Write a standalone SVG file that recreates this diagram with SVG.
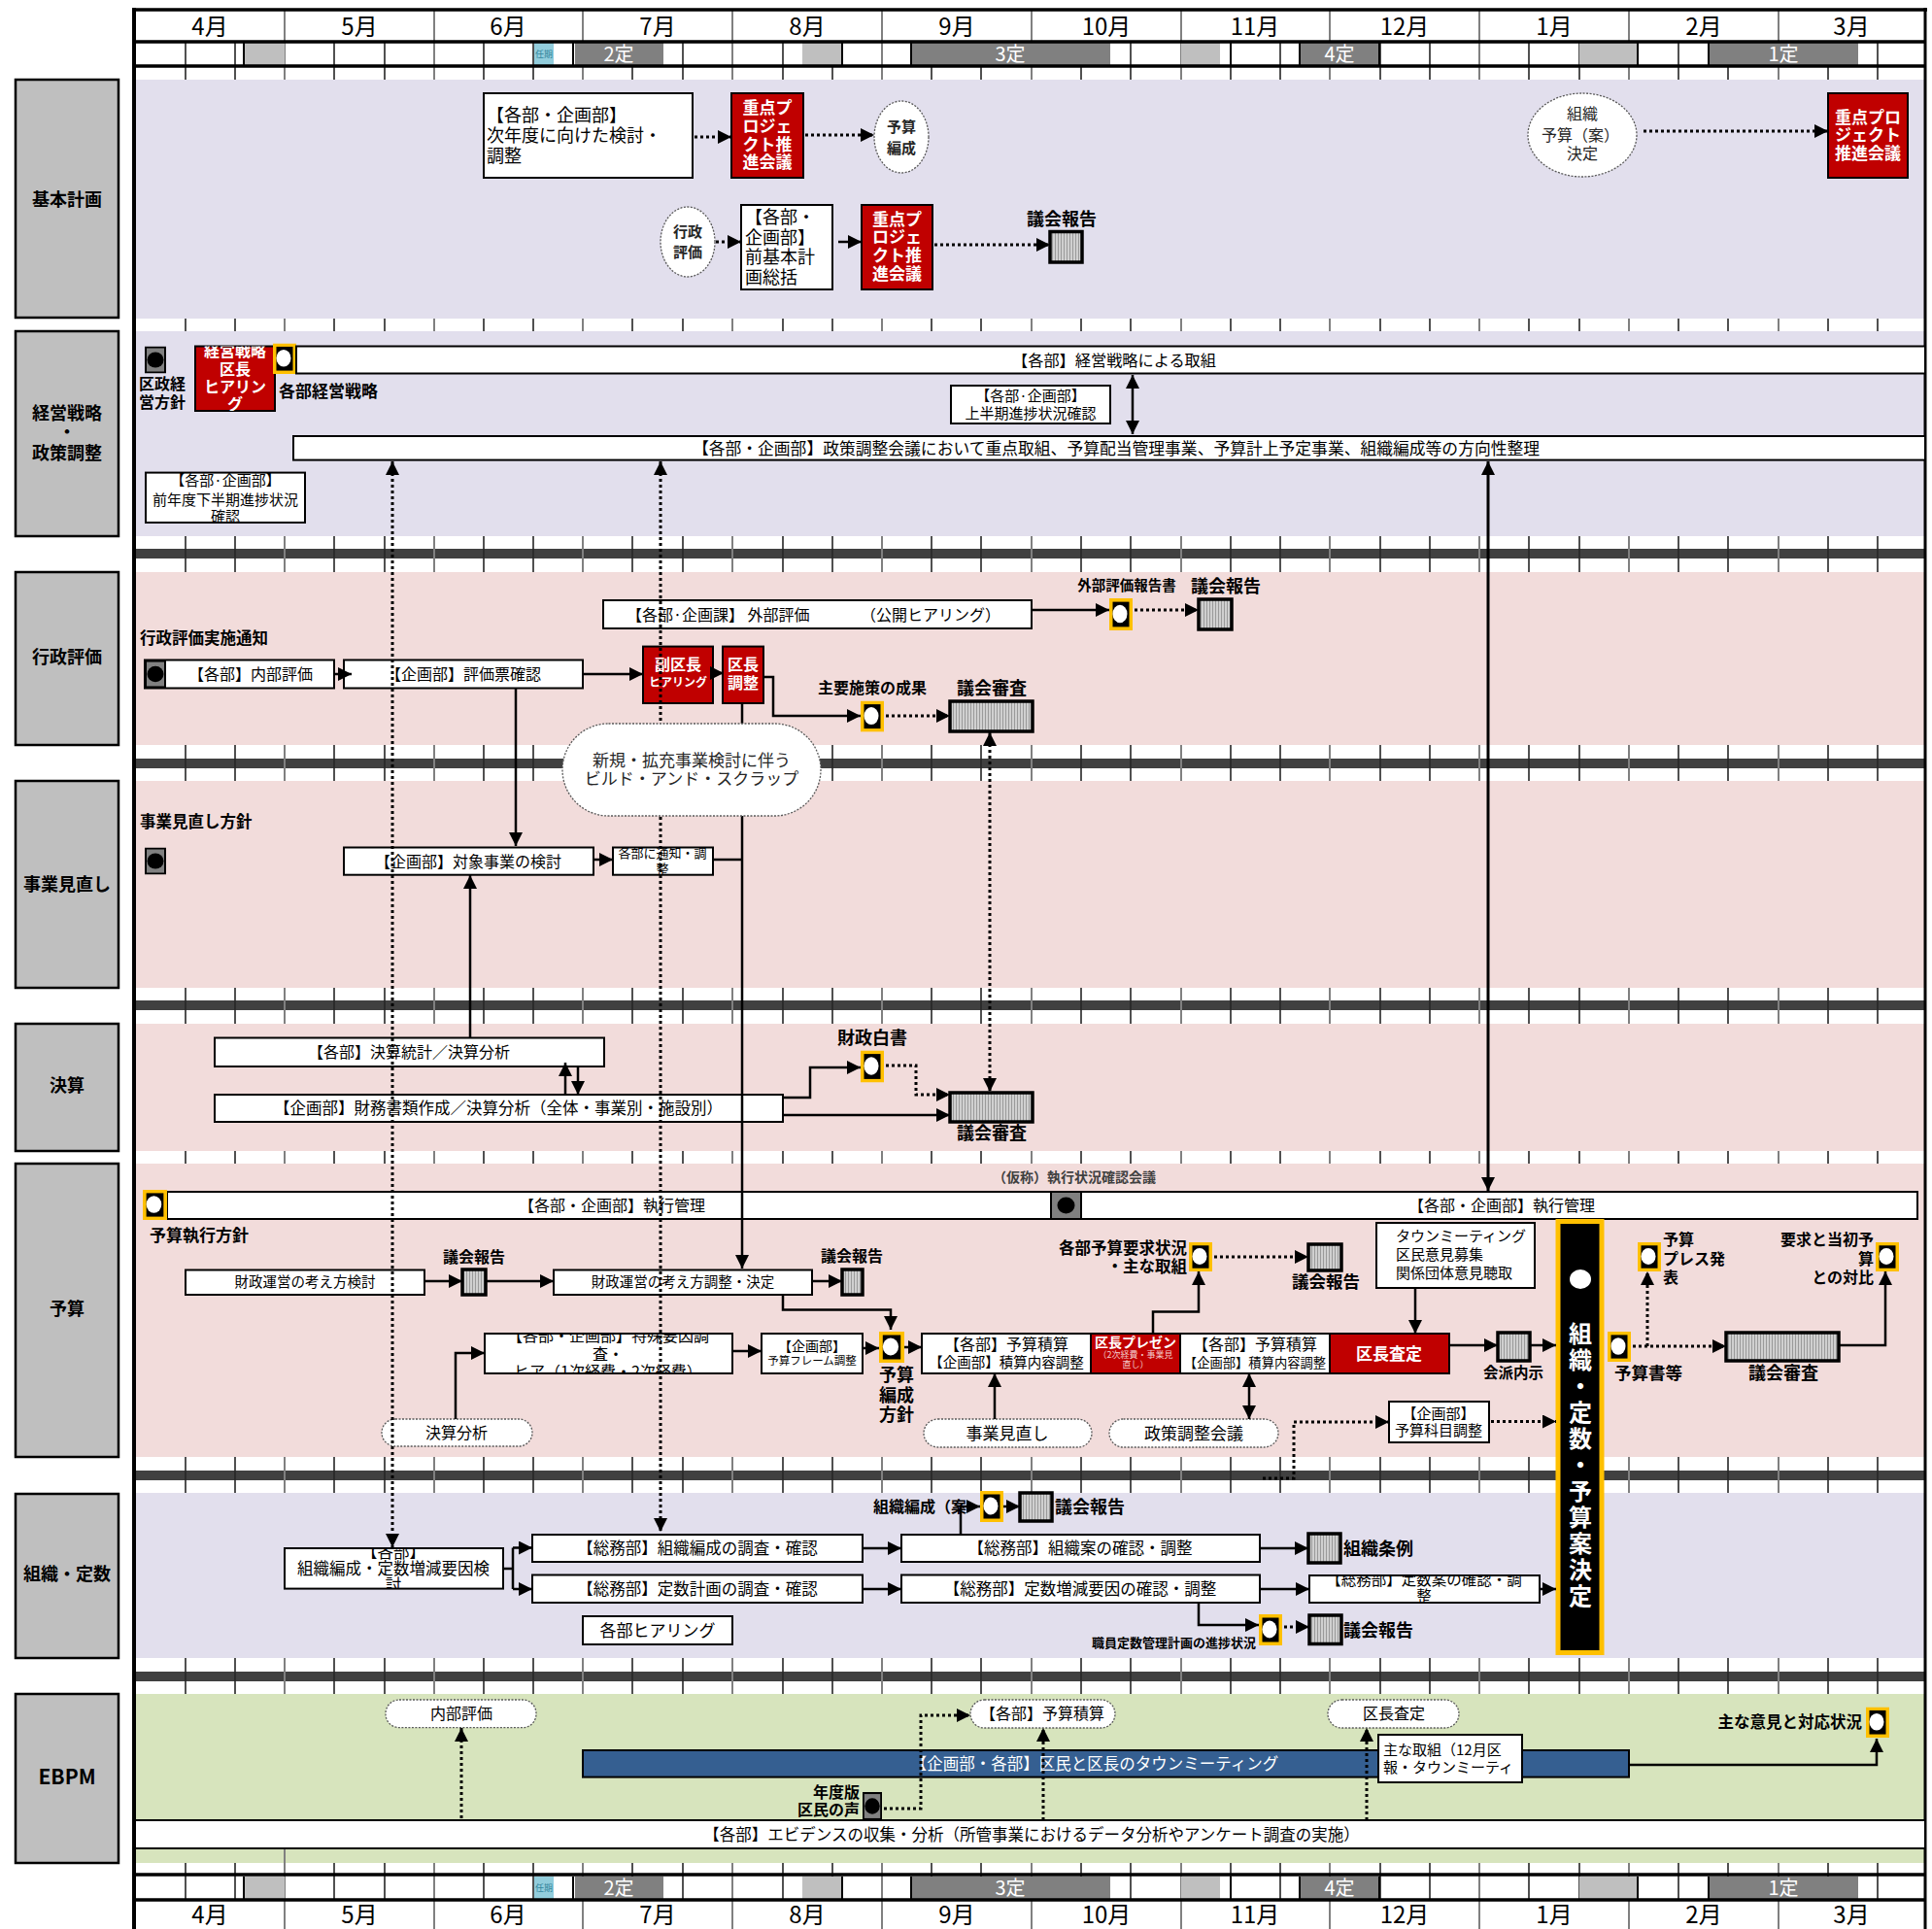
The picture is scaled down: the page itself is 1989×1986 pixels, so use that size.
<svg xmlns="http://www.w3.org/2000/svg" width="1989" height="1986" viewBox="0 0 1989 1986">
<defs>
<style>
text{font-family:"Noto Sans CJK JP","Noto Sans",sans-serif;fill:#000}
.b{font-weight:bold}
.w{fill:#fff}
.g3{fill:#262626}
.gr{fill:#404040}
.pk{fill:#f4cccc}
.m{text-anchor:middle}
.e{text-anchor:end}
.box{fill:#fff;stroke:#000;stroke-width:2}
.red{fill:#c00000;stroke:#000;stroke-width:2}
.pill{fill:#fff;stroke:#595959;stroke-width:1.3;stroke-dasharray:2 1.5}
.lab{fill:#bfbfbf;stroke:#000;stroke-width:2.5}
.cnl{fill:url(#st);stroke:#000;stroke-width:3.5}
.c{fill:none;stroke:#000;stroke-width:2.5}
.d{fill:none;stroke:#000;stroke-width:3;stroke-dasharray:3 3}
.ea{marker-end:url(#ah)}
.sa{marker-start:url(#ah)}
.lav{fill:#e2dfed}
.pnk{fill:#f2dcdb}
.grn{fill:#d7e4bd}
.band{fill:#404040}
.tk{fill:none;stroke:#262626;stroke-width:1.6}
.tm{fill:none;stroke:#808080;stroke-width:2}
.blue{fill:#355f91;stroke:#000;stroke-width:2}
.cy{fill:#31859c}
.lg{fill:#bfbfbf}
.dg{fill:#808080}
.vt{writing-mode:vertical-rl;letter-spacing:3px}
</style>
<marker id="ah" viewBox="0 0 10 10" refX="10" refY="5" markerWidth="14" markerHeight="14" markerUnits="userSpaceOnUse" orient="auto-start-reverse"><path d="M0,0L10,5L0,10z" fill="#000"/></marker>
<pattern id="st" width="3" height="4" patternUnits="userSpaceOnUse"><rect width="3" height="4" fill="#d0d0d0"/><rect width="1" height="4" fill="#9a9a9a"/></pattern>
<symbol id="ms" viewBox="0 0 24 32" preserveAspectRatio="none"><rect width="24" height="32" fill="#ffc000"/><rect x="3.5" y="3.5" width="17" height="25" fill="#000"/><ellipse cx="11" cy="15.5" rx="7.5" ry="9" fill="#fff"/></symbol>
<symbol id="gc" viewBox="0 0 22 28" preserveAspectRatio="none"><rect x="1" y="1" width="20" height="26" fill="#808080" stroke="#000" stroke-width="2"/><ellipse cx="11" cy="14" rx="8.5" ry="8" fill="#000"/></symbol>
<clipPath id="cp1"><rect x="201" y="356.5" width="82" height="66.5"/></clipPath>
<clipPath id="cp2"><rect x="150" y="486.6" width="164" height="51.4"/></clipPath>
<clipPath id="cp3"><rect x="631" y="872.5" width="103" height="28.2"/></clipPath>
<clipPath id="cp4"><rect x="499" y="1373" width="255" height="41"/></clipPath>
<clipPath id="cp5"><rect x="293" y="1594" width="225" height="41.6"/></clipPath>
<clipPath id="cp6"><rect x="1348" y="1622" width="237" height="28"/></clipPath>
<g id="hdr">
<rect x="252" y="0" width="41" height="23" class="lg"/>
<rect x="550" y="0" width="20" height="23" fill="#92cddc"/>
<text x="560" y="15" font-size="9" class="m cy">任期</text>
<rect x="592" y="0" width="91" height="23" class="dg"/>
<text x="637" y="19" font-size="20" class="m w">2定</text>
<rect x="826" y="0" width="41" height="23" class="lg"/>
<rect x="938" y="0" width="205" height="23" class="dg"/>
<text x="1040" y="19" font-size="20" class="m w">3定</text>
<rect x="1216" y="0" width="40" height="23" class="lg"/>
<rect x="1338" y="0" width="82" height="23" class="dg"/>
<text x="1379" y="19" font-size="20" class="m w">4定</text>
<rect x="1626" y="0" width="60" height="23" class="lg"/>
<rect x="1759" y="0" width="154" height="23" class="dg"/>
<text x="1836" y="19" font-size="20" class="m w">1定</text>
<path d="M251,0V23M590,0V23M867,0V23M938,0V23M1267,0V23M1338,0V23M1420,0V23M1686,0V23M1759,0V23" stroke="#000" stroke-width="2"/>
</g>
</defs>

<g id="background">
<rect width="1989" height="1986" fill="#fff"/>
<rect x="140" y="565" width="1841" height="10" class="band"/>
<rect x="140" y="781" width="1841" height="10" class="band"/>
<rect x="140" y="1030" width="1841" height="10" class="band"/>
<rect x="140" y="1514" width="1841" height="10" class="band"/>
<rect x="140" y="1721" width="1841" height="10" class="band"/>
<path class="tk" d="M191,43V1956M242,43V1956M344,43V1956M396,43V1956M498,43V1956M549,43V1956M651,43V1956M703,43V1956M806,43V1956M857,43V1956M959,43V1956M1010,43V1956M1113,43V1956M1164,43V1956M1267,43V1956M1318,43V1956M1421,43V1956M1472,43V1956M1574,43V1956M1626,43V1956M1728,43V1956M1779,43V1956M1882,43V1956M1933,43V1956"/>
<path class="tm" d="M293,10V1986M447,10V1986M600,10V1986M754,10V1986M908,10V1986M1062,10V1986M1216,10V1986M1369,10V1986M1523,10V1986M1677,10V1986M1831,10V1986"/>
<rect x="140" y="82" width="1841" height="246" class="lav"/>
<rect x="140" y="341" width="1841" height="211" class="lav"/>
<rect x="140" y="589" width="1841" height="178" class="pnk"/>
<rect x="140" y="804" width="1841" height="213" class="pnk"/>
<rect x="140" y="1054" width="1841" height="131" class="pnk"/>
<rect x="140" y="1198" width="1841" height="302" class="pnk"/>
<rect x="140" y="1537" width="1841" height="170" class="lav"/>
<rect x="140" y="1744" width="1841" height="174" class="grn"/>
<path d="M293,1903V1918" stroke="#808080" stroke-width="2"/>
<use href="#hdr" x="0" y="44"/>
<use href="#hdr" x="0" y="1932"/>
<path d="M136,10H1984M138,43H1982M138,68H1982M138,1930H1982M138,1956H1982" stroke="#000" stroke-width="3.5" fill="none"/>
<path d="M138,8V1986" stroke="#000" stroke-width="4"/>
<path d="M1982,8V1986" stroke="#000" stroke-width="3"/>
<g font-size="24" class="m">
<text x="216" y="36" class="m">4月</text><text x="370" y="36" class="m">5月</text><text x="523" y="36" class="m">6月</text><text x="677" y="36" class="m">7月</text><text x="831" y="36" class="m">8月</text><text x="985" y="36" class="m">9月</text><text x="1139" y="36" class="m">10月</text><text x="1292" y="36" class="m">11月</text><text x="1446" y="36" class="m">12月</text><text x="1600" y="36" class="m">1月</text><text x="1754" y="36" class="m">2月</text><text x="1906" y="36" class="m">3月</text>
<text x="216" y="1980" class="m">4月</text><text x="370" y="1980" class="m">5月</text><text x="523" y="1980" class="m">6月</text><text x="677" y="1980" class="m">7月</text><text x="831" y="1980" class="m">8月</text><text x="985" y="1980" class="m">9月</text><text x="1139" y="1980" class="m">10月</text><text x="1292" y="1980" class="m">11月</text><text x="1446" y="1980" class="m">12月</text><text x="1600" y="1980" class="m">1月</text><text x="1754" y="1980" class="m">2月</text><text x="1906" y="1980" class="m">3月</text>
</g>
</g>

<g id="lane-labels" font-size="18">
<rect x="16" y="82" width="106" height="245" class="lab"/><text x="69" y="211.7" class="m b">基本計画</text>
<rect x="16" y="341" width="106" height="211" class="lab"/><text x="69" y="431.7" class="m b">経営戦略</text><text x="69" y="451" class="m b">・</text><text x="69" y="472.7" class="m b">政策調整</text>
<rect x="16" y="589" width="106" height="178" class="lab"/><text x="69" y="682.7" class="m b">行政評価</text>
<rect x="16" y="804" width="106" height="213" class="lab"/><text x="69" y="917.4" class="m b">事業見直し</text>
<rect x="16" y="1054" width="106" height="131" class="lab"/><text x="69" y="1124.2" class="m b">決算</text>
<rect x="16" y="1198" width="106" height="302" class="lab"/><text x="69" y="1354.3" class="m b">予算</text>
<rect x="16" y="1538" width="106" height="169" class="lab"/><text x="69" y="1627.4" class="m b">組織・定数</text>
<rect x="16" y="1744" width="106" height="174" class="lab"/><text x="69" y="1837" class="m b" font-size="21">EBPM</text>
</g>

<g id="n-jinendo"><rect x="498" y="96" width="215" height="87" class="box"/><text font-size="18"><tspan x="501" y="124.7">【各部・企画部】</tspan><tspan x="501" y="145.7">次年度に向けた検討・</tspan><tspan x="501" y="166.7">調整</tspan></text></g>
<g id="n-jp1"><rect x="753" y="96" width="74" height="87" class="red"/><text font-size="17" class="b w m"><tspan x="790" y="117">重点プ</tspan><tspan x="790" y="136.3">ロジェ</tspan><tspan x="790" y="154.8">クト推</tspan><tspan x="790" y="173.3">進会議</tspan></text></g>
<g id="n-yosanhensei"><ellipse cx="928" cy="141" rx="28" ry="37" class="pill"/><text font-size="15" class="b m g3"><tspan x="928" y="135.5">予算</tspan><tspan x="928" y="157.5">編成</tspan></text></g>
<g id="n-gyosei"><ellipse cx="708" cy="249" rx="28" ry="36" class="pill"/><text font-size="15" class="b m g3"><tspan x="708" y="244">行政</tspan><tspan x="708" y="264.5">評価</tspan></text></g>
<g id="n-zenkihon"><rect x="763" y="211" width="94" height="87" class="box"/><text font-size="18"><tspan x="767" y="229.7">【各部・</tspan><tspan x="767" y="250.7">企画部】</tspan><tspan x="767" y="271.3">前基本計</tspan><tspan x="767" y="291.7">画総括</tspan></text></g>
<g id="n-jp2"><rect x="887" y="211" width="73" height="87" class="red"/><text font-size="17" class="b w m"><tspan x="923.5" y="231.8">重点プ</tspan><tspan x="923.5" y="250.3">ロジェ</tspan><tspan x="923.5" y="269.3">クト推</tspan><tspan x="923.5" y="288.3">進会議</tspan></text></g>
<g id="n-gikai1"><rect x="1081" y="238.5" width="33" height="31.5" class="cnl"/><text x="1093" y="231.7" font-size="18" class="b m">議会報告</text></g>
<g id="n-soshikiyosan"><ellipse cx="1629" cy="139" rx="56" ry="43" class="pill"/><text font-size="16" class="m g3"><tspan x="1629" y="123">組織</tspan><tspan x="1627" y="145">予算（案）</tspan><tspan x="1629" y="164">決定</tspan></text></g>
<g id="n-jp3"><rect x="1882" y="96" width="82" height="87" class="red"/><text font-size="17" class="b w m"><tspan x="1923" y="127">重点プロ</tspan><tspan x="1923" y="145.3">ジェクト</tspan><tspan x="1923" y="164.3">推進会議</tspan></text></g>

<g id="n-kusei"><use href="#gc" x="149" y="356.5" width="22" height="28"/><text font-size="16" class="b"><tspan x="143" y="401">区政経</tspan><tspan x="143" y="420">営方針</tspan></text></g>
<g id="n-hearing"><rect x="201" y="356.5" width="82" height="66.5" class="red"/><g clip-path="url(#cp1)"><text font-size="16" class="b w m"><tspan x="242" y="366.9">経営戦略</tspan><tspan x="242" y="385.9">区長</tspan><tspan x="242" y="403.9">ヒアリン</tspan><tspan x="242" y="421.9">グ</tspan></text></g></g>
<g id="n-ms-senryaku"><use href="#ms" x="281" y="353.5" width="24" height="31.5"/><text x="287" y="408.8" font-size="17" class="b">各部経営戦略</text></g>
<g id="n-torikumi"><rect x="305" y="356.5" width="1677" height="28" class="box"/><text x="1147" y="376.5" font-size="16.2" class="m">【各部】経営戦略による取組</text></g>
<g id="n-kamihanki"><rect x="979" y="397" width="164" height="39" class="box"/><text font-size="15" class="m"><tspan x="1061" y="412.5">【各部·企画部】</tspan><tspan x="1061" y="430.5">上半期進捗状況確認</tspan></text></g>
<g id="n-seisaku"><rect x="302" y="449" width="1680" height="24.6" class="box"/><text x="1149" y="467.5" font-size="16.8" class="m">【各部・企画部】政策調整会議において重点取組、予算配当管理事業、予算計上予定事業、組織編成等の方向性整理</text></g>
<g id="n-zennendo"><rect x="150" y="486.6" width="164" height="51.4" class="box"/><g clip-path="url(#cp2)"><text font-size="15" class="m"><tspan x="232" y="499.5">【各部·企画部】</tspan><tspan x="232" y="519.5">前年度下半期進捗状況</tspan><tspan x="232" y="537">確認</tspan></text></g></g>

<g id="n-gyoseitsuchi"><text x="144" y="663" font-size="16.5" class="b">行政評価実施通知</text></g>
<g id="n-naibu"><rect x="149" y="679.5" width="195" height="29" class="box"/><use href="#gc" x="149" y="679.5" width="22" height="29"/><text x="258" y="700" font-size="16" class="m">【各部】内部評価</text></g>
<g id="n-hyokahyo"><rect x="354" y="679.5" width="246" height="29" class="box"/><text x="477" y="700" font-size="16" class="m">【企画部】評価票確認</text></g>
<g id="n-gaibu"><rect x="621" y="618" width="441" height="29" class="box"/><text x="645" y="638.5" font-size="16">【各部·企画課】 外部評価</text><text x="886" y="638.5" font-size="16">（公開ヒアリング）</text></g>
<g id="n-ms-gaibu"><use href="#ms" x="1142" y="616" width="24" height="33"/><text x="1160" y="608.4" font-size="14.5" class="b m">外部評価報告書</text></g>
<g id="n-gikai2"><rect x="1234" y="617" width="34" height="31" class="cnl"/><text x="1262" y="609.7" font-size="18" class="b m">議会報告</text></g>
<g id="n-fukukucho"><rect x="662" y="665.6" width="72" height="58.4" class="red"/><text x="698" y="690" font-size="16" class="b w m">副区長</text><text x="698" y="707" font-size="12" class="b w m">ヒアリング</text></g>
<g id="n-kuchochosei"><rect x="744" y="665.6" width="42" height="58.4" class="red"/><text font-size="16" class="b w m"><tspan x="765" y="690">区長</tspan><tspan x="765" y="709">調整</tspan></text></g>
<g id="n-ms-shuyo"><use href="#ms" x="886" y="721.6" width="24" height="32"/><text x="898" y="714" font-size="16" class="b m">主要施策の成果</text></g>
<g id="n-shinsa1"><rect x="978" y="722" width="85" height="31" class="cnl"/><text x="1021" y="714.7" font-size="18" class="b m">議会審査</text></g>

<g id="n-minaoshihoshin"><text x="144" y="851.7" font-size="16.5" class="b">事業見直し方針</text><use href="#gc" x="149" y="872.5" width="22" height="28"/></g>
<g id="n-taisho"><rect x="354" y="872.5" width="257" height="28.2" class="box"/><text x="482" y="892.6" font-size="16" class="m">【企画部】対象事業の検討</text></g>
<g id="n-tsuchi"><rect x="631" y="872.5" width="103" height="28.2" class="box"/><g clip-path="url(#cp3)"><text font-size="13" class="m"><tspan x="682" y="882.8">各部に通知・調</tspan><tspan x="682" y="898.8">整</tspan></text></g></g>

<g id="n-kessantokei"><rect x="221" y="1068.5" width="401" height="29.5" class="box"/><text x="421" y="1089" font-size="16" class="m">【各部】決算統計／決算分析</text></g>
<g id="n-zaimu"><rect x="221" y="1127" width="585" height="28" class="box"/><text x="513" y="1147" font-size="16.5" class="m">【企画部】財務書類作成／決算分析（全体・事業別・施設別）</text></g>
<g id="n-ms-hakusho"><use href="#ms" x="886" y="1081.5" width="24" height="33"/><text x="898" y="1074.7" font-size="18" class="b m">財政白書</text></g>
<g id="n-shinsa2"><rect x="978" y="1125" width="85" height="30" class="cnl"/><text x="1021" y="1173.3" font-size="18" class="b m">議会審査</text></g>

<g id="n-kakuninkaigi"><text x="1106" y="1216.8" font-size="14" class="b m gr">（仮称）執行状況確認会議</text><rect x="1082" y="1227" width="31" height="28" fill="#808080" stroke="#000" stroke-width="2"/><ellipse cx="1097.5" cy="1241" rx="9" ry="8.5" fill="#000"/></g>
<g id="n-shikko1"><rect x="172" y="1227" width="910" height="28" class="box"/><use href="#ms" x="147" y="1225" width="25" height="31"/><text x="630" y="1247" font-size="16" class="m">【各部・企画部】執行管理</text><text x="154" y="1277.8" font-size="17" class="b">予算執行方針</text></g>
<g id="n-shikko2"><rect x="1113" y="1227" width="861" height="28" class="box"/><text x="1546" y="1247" font-size="16" class="m">【各部・企画部】執行管理</text></g>
<g id="n-zaisei1"><rect x="191" y="1307.5" width="246" height="25.5" class="box"/><text x="314" y="1325.4" font-size="14.5" class="m">財政運営の考え方検討</text></g>
<g id="n-gikai3"><rect x="476" y="1307" width="24" height="26" class="cnl"/><text x="488" y="1300" font-size="16" class="b m">議会報告</text></g>
<g id="n-zaisei2"><rect x="570" y="1307.5" width="266" height="25.5" class="box"/><text x="703" y="1325.4" font-size="14.5" class="m">財政運営の考え方調整・決定</text></g>
<g id="n-gikai4"><rect x="867" y="1307" width="21" height="26" class="cnl"/><text x="877" y="1299" font-size="16" class="b m">議会報告</text></g>
<g id="n-tokushu"><rect x="499" y="1373" width="255" height="41" class="box"/><g clip-path="url(#cp4)"><text font-size="16" class="m"><tspan x="626" y="1381">【各部・企画部】特殊要因調</tspan><tspan x="626" y="1400">査・</tspan><tspan x="626" y="1418">ヒア（1次経費・2次経費）</tspan></text></g></g>
<g id="n-kessanbunseki"><rect x="393" y="1461" width="155" height="28" rx="14" class="pill"/><text x="470" y="1481" font-size="16" class="m">決算分析</text></g>
<g id="n-frame"><rect x="784" y="1373" width="104" height="41" class="box"/><text x="836" y="1391.2" font-size="14" class="m">【企画部】</text><text x="836" y="1405" font-size="11.5" class="m">予算フレーム調整</text></g>
<g id="n-ms-hensei"><use href="#ms" x="905" y="1371" width="26" height="32"/><text font-size="18" class="b m"><tspan x="923" y="1422.3">予算</tspan><tspan x="923" y="1442.7">編成</tspan><tspan x="923" y="1462.7">方針</tspan></text></g>
<g id="n-sekisan1"><rect x="949" y="1373" width="174" height="41" class="box"/><text x="1036" y="1390" font-size="16" class="m">【各部】予算積算</text><text x="1036" y="1408.4" font-size="14.5" class="m">【企画部】積算内容調整</text></g>
<g id="n-present"><rect x="1123" y="1373" width="92" height="41" class="red"/><text x="1169" y="1387.2" font-size="14" class="b w m">区長プレゼン</text><text x="1169" y="1398.3" font-size="9" class="m pk">（2次経費・事業見</text><text x="1169" y="1408.3" font-size="9" class="m pk">直し）</text></g>
<g id="n-sekisan2"><rect x="1215" y="1373" width="154" height="41" class="box"/><text x="1292" y="1390" font-size="16" class="m">【各部】予算積算</text><text x="1292" y="1408" font-size="13.3" class="m">【企画部】積算内容調整</text></g>
<g id="n-satei"><rect x="1369" y="1373" width="123" height="41" class="red"/><text x="1430" y="1399.5" font-size="17" class="b w m">区長査定</text></g>
<g id="n-ms-yokyu"><use href="#ms" x="1224" y="1279" width="24" height="30"/><text x="1222" y="1290.6" font-size="16.5" class="b e">各部予算要求状況</text><text x="1222" y="1310" font-size="16.5" class="b e">・主な取組</text></g>
<g id="n-gikai5"><rect x="1347" y="1281" width="34" height="27" class="cnl"/><text x="1365" y="1325.5" font-size="17.5" class="b m">議会報告</text></g>
<g id="n-town"><rect x="1417" y="1259" width="163" height="67" class="box"/><text font-size="15"><tspan x="1437" y="1277.5">タウンミーティング</tspan><tspan x="1437" y="1296.5">区民意見募集</tspan><tspan x="1437" y="1315.5">関係団体意見聴取</tspan></text></g>
<g id="n-kaiha"><rect x="1542" y="1372" width="33" height="29" class="cnl"/><text x="1558" y="1418.7" font-size="15.5" class="b m">会派内示</text></g>
<g id="n-kamoku"><rect x="1430" y="1443" width="103" height="42" class="box"/><text x="1481" y="1460.5" font-size="15" class="m">【企画部】</text><text x="1481" y="1477.5" font-size="15" class="m">予算科目調整</text></g>
<g id="n-minaoshi"><rect x="951" y="1461" width="173" height="29" rx="14.5" class="pill"/><text x="1037" y="1481.8" font-size="17" class="m">事業見直し</text></g>
<g id="n-seisakuchosei"><rect x="1142" y="1461" width="174" height="29" rx="14.5" class="pill"/><text x="1229" y="1481.8" font-size="17" class="m">政策調整会議</text></g>
<g id="n-ms-yosansho"><use href="#ms" x="1655" y="1371" width="24" height="31"/><text x="1697" y="1419.5" font-size="17.5" class="b m">予算書等</text></g>
<g id="n-ms-press"><use href="#ms" x="1686" y="1279" width="24" height="30"/><text font-size="16" class="b"><tspan x="1712" y="1282">予算</tspan><tspan x="1712" y="1302">プレス発</tspan><tspan x="1712" y="1321">表</tspan></text></g>
<g id="n-shinsa3"><rect x="1777" y="1372" width="116" height="29" class="cnl"/><text x="1836" y="1419.7" font-size="18" class="b m">議会審査</text></g>
<g id="n-ms-taihi"><use href="#ms" x="1931" y="1279" width="24" height="30"/><text font-size="16" class="b e"><tspan x="1929" y="1282">要求と当初予</tspan><tspan x="1929" y="1302">算</tspan><tspan x="1929" y="1321">との対比</tspan></text></g>

<g id="n-soshikikento"><rect x="293" y="1594" width="225" height="41.6" class="box"/><g clip-path="url(#cp5)"><text font-size="16.5" class="m"><tspan x="405" y="1604">【各部】</tspan><tspan x="405" y="1621">組織編成・定数増減要因検</tspan><tspan x="405" y="1638">討</tspan></text></g></g>
<g id="n-chosa1"><rect x="548" y="1580" width="340" height="28" class="box"/><text x="718" y="1600" font-size="16.5" class="m">【総務部】組織編成の調査・確認</text></g>
<g id="n-chosa2"><rect x="548" y="1621.5" width="340" height="28.5" class="box"/><text x="718" y="1642" font-size="16.5" class="m">【総務部】定数計画の調査・確認</text></g>
<g id="n-hearing2"><rect x="600" y="1664" width="154" height="29" class="box"/><text x="677" y="1684.8" font-size="17" class="m">各部ヒアリング</text></g>
<g id="n-kakunin1"><rect x="928" y="1580" width="369" height="28" class="box"/><text x="1112" y="1600" font-size="16.5" class="m">【総務部】組織案の確認・調整</text></g>
<g id="n-kakunin2"><rect x="928" y="1621.5" width="369" height="28.5" class="box"/><text x="1112" y="1642" font-size="16.5" class="m">【総務部】定数増減要因の確認・調整</text></g>
<g id="n-ms-soshikian"><text x="899" y="1556.6" font-size="16" class="b">組織編成（案</text><use href="#ms" x="1009" y="1535" width="24" height="32"/></g>
<g id="n-gikai6"><rect x="1050" y="1537" width="33" height="29" class="cnl"/><text x="1086" y="1557.7" font-size="18" class="b">議会報告</text></g>
<g id="n-jorei"><rect x="1347" y="1579" width="33" height="30" class="cnl"/><text x="1383" y="1600.7" font-size="18" class="b">組織条例</text></g>
<g id="n-teisuan"><rect x="1348" y="1622" width="237" height="28" class="box"/><g clip-path="url(#cp6)"><text font-size="15.5" class="m"><tspan x="1466" y="1632.3">【総務部】定数案の確認・調</tspan><tspan x="1466" y="1649.3">整</tspan></text></g></g>
<g id="n-ms-teisu"><use href="#ms" x="1296" y="1662" width="24" height="32"/><text x="1293" y="1696.4" font-size="13" class="b e">職員定数管理計画の進捗状況</text></g>
<g id="n-gikai7"><rect x="1348" y="1663" width="33" height="29.5" class="cnl"/><text x="1383" y="1684.7" font-size="18" class="b">議会報告</text></g>

<g id="n-naibuhyoka"><rect x="397" y="1750" width="155" height="28.7" rx="14" class="pill"/><text x="475" y="1770" font-size="16" class="m">内部評価</text></g>
<g id="n-townbar"><rect x="600" y="1802" width="1077" height="27.6" class="blue"/><text x="1127" y="1822" font-size="16.5" class="m w">【企画部・各部】区民と区長のタウンミーティング</text></g>
<g id="n-shuna"><rect x="1419" y="1786" width="148" height="49" class="box"/><text font-size="15"><tspan x="1424" y="1806.5">主な取組（12月区</tspan><tspan x="1424" y="1824.5">報・タウンミーティ</tspan></text></g>
<g id="n-ms-iken"><use href="#ms" x="1921" y="1757.5" width="24" height="31.5"/><text x="1917" y="1779" font-size="16.5" class="b e">主な意見と対応状況</text></g>
<g id="n-koe"><use href="#gc" x="888" y="1845" width="20" height="29"/><text x="885" y="1850.5" font-size="16" class="b e">年度版</text><text x="885" y="1868.7" font-size="16" class="b e">区民の声</text></g>
<g id="n-sekisanpill"><rect x="999" y="1750" width="149" height="29" rx="14.5" class="pill"/><text x="1073" y="1770" font-size="16" class="m">【各部】予算積算</text></g>
<g id="n-sateipill"><rect x="1367" y="1750" width="135" height="29" rx="14.5" class="pill"/><text x="1435" y="1770" font-size="16" class="m">区長査定</text></g>
<g id="n-evidence"><rect x="139" y="1874" width="1843" height="29" class="box"/><text x="1062" y="1894.5" font-size="16.5" class="m">【各部】エビデンスの収集・分析（所管事業におけるデータ分析やアンケート調査の実施）</text></g>

<g id="n-kettei"><rect x="1604" y="1257.5" width="45" height="444" fill="#000" stroke="#ffc000" stroke-width="5"/><ellipse cx="1627" cy="1317" rx="11" ry="10" fill="#fff"/>
<text x="1627" y="1509" font-size="24" class="b w m vt">組織・定数・予算案決定</text></g>

<g id="connectors">
<path class="d ea" d="M715,141H753"/>
<path class="d ea" d="M829,139H900"/>
<path class="d ea" d="M737,249H763"/>
<path class="c ea" d="M863,249H887"/>
<path class="d ea" d="M962,252H1081"/>
<path class="d ea" d="M1692,135H1882"/>
<path class="c ea sa" d="M1166,386V447"/>
<path class="d ea sa" d="M404,475V1593"/>
<path class="d ea sa" d="M680,475V1577"/>
<path class="c ea sa" d="M1532,475V1226" style="stroke-width:3"/>
<path class="c ea" d="M1062,628H1142"/>
<path class="d ea" d="M1168,628H1234"/>
<path class="c ea" d="M344,694H362"/>
<path class="c ea" d="M600,694H662"/>
<path class="c ea" d="M734,693H745"/>
<path class="c ea" d="M786,697H796V737H886"/>
<path class="d ea" d="M912,737H978"/>
<path class="d ea sa" d="M1019,754V1124"/>
<path class="c ea" d="M764,724V1306"/>
<path class="c" d="M734,885H764"/>
<path class="c ea" d="M531,709V871"/>
<path class="c ea" d="M611,885H631"/>
<path class="c ea" d="M484,1068.5V901"/>
<path class="c ea" d="M582,1127V1094"/>
<path class="c ea" d="M595,1098V1127"/>
<path class="c ea" d="M806,1130H834V1099H886"/>
<path class="d ea" d="M912,1097H943V1127H978"/>
<path class="c ea" d="M806,1148H978"/>
<path class="c ea" d="M437,1319H476"/>
<path class="c ea" d="M500,1319H570"/>
<path class="c ea" d="M836,1319H867"/>
<path class="c ea" d="M806,1333V1348.5H917V1369"/>
<path class="c ea" d="M469,1461V1393H499"/>
<path class="c ea" d="M754,1391H784"/>
<path class="c ea" d="M888,1388H905"/>
<path class="c ea" d="M931,1387H949"/>
<path class="c ea" d="M1024,1461V1414"/>
<path class="c ea sa" d="M1286,1414V1461"/>
<path class="c ea" d="M1187,1373V1350.6H1234V1309"/>
<path class="d ea" d="M1250,1294H1347"/>
<path class="c ea" d="M1457,1326V1373"/>
<path class="c ea" d="M1492,1385H1542"/>
<path class="c ea" d="M1575,1385H1602"/>
<path class="d ea" d="M1300,1522H1332V1464H1430"/>
<path class="d ea" d="M1535,1463.5H1602"/>
<path class="d ea" d="M1681,1386H1777"/>
<path class="d ea" d="M1696,1386V1309"/>
<path class="c ea" d="M1893,1385H1941V1309"/>
<path class="c" d="M518,1615H528M528,1593.5V1636"/>
<path class="c ea" d="M528,1593.5H548"/>
<path class="c ea" d="M528,1636H548"/>
<path class="c ea" d="M888,1594H928"/>
<path class="c ea" d="M888,1636H928"/>
<path class="c ea" d="M989,1580V1551H1009"/>
<path class="c ea" d="M1033,1551H1050"/>
<path class="c ea" d="M1297,1594H1347"/>
<path class="c ea" d="M1297,1636H1348"/>
<path class="c ea" d="M1585,1636H1602"/>
<path class="c ea" d="M1234,1650V1673H1296"/>
<path class="d ea" d="M1322,1675H1348"/>
<path class="d ea" d="M475,1872V1779"/>
<path class="d ea" d="M910,1862H948V1766H999"/>
<path class="d ea" d="M1074,1874V1779"/>
<path class="d ea" d="M1407,1874V1779"/>
<path class="c ea" d="M1677,1817H1932V1790"/>
</g>

<g id="n-build"><rect x="579" y="745" width="266" height="95" rx="47.5" class="pill"/><text font-size="17" class="m g3"><tspan x="712" y="789">新規・拡充事業検討に伴う</tspan><tspan x="712" y="808.1">ビルド・アンド・スクラップ</tspan></text></g>
</svg>
